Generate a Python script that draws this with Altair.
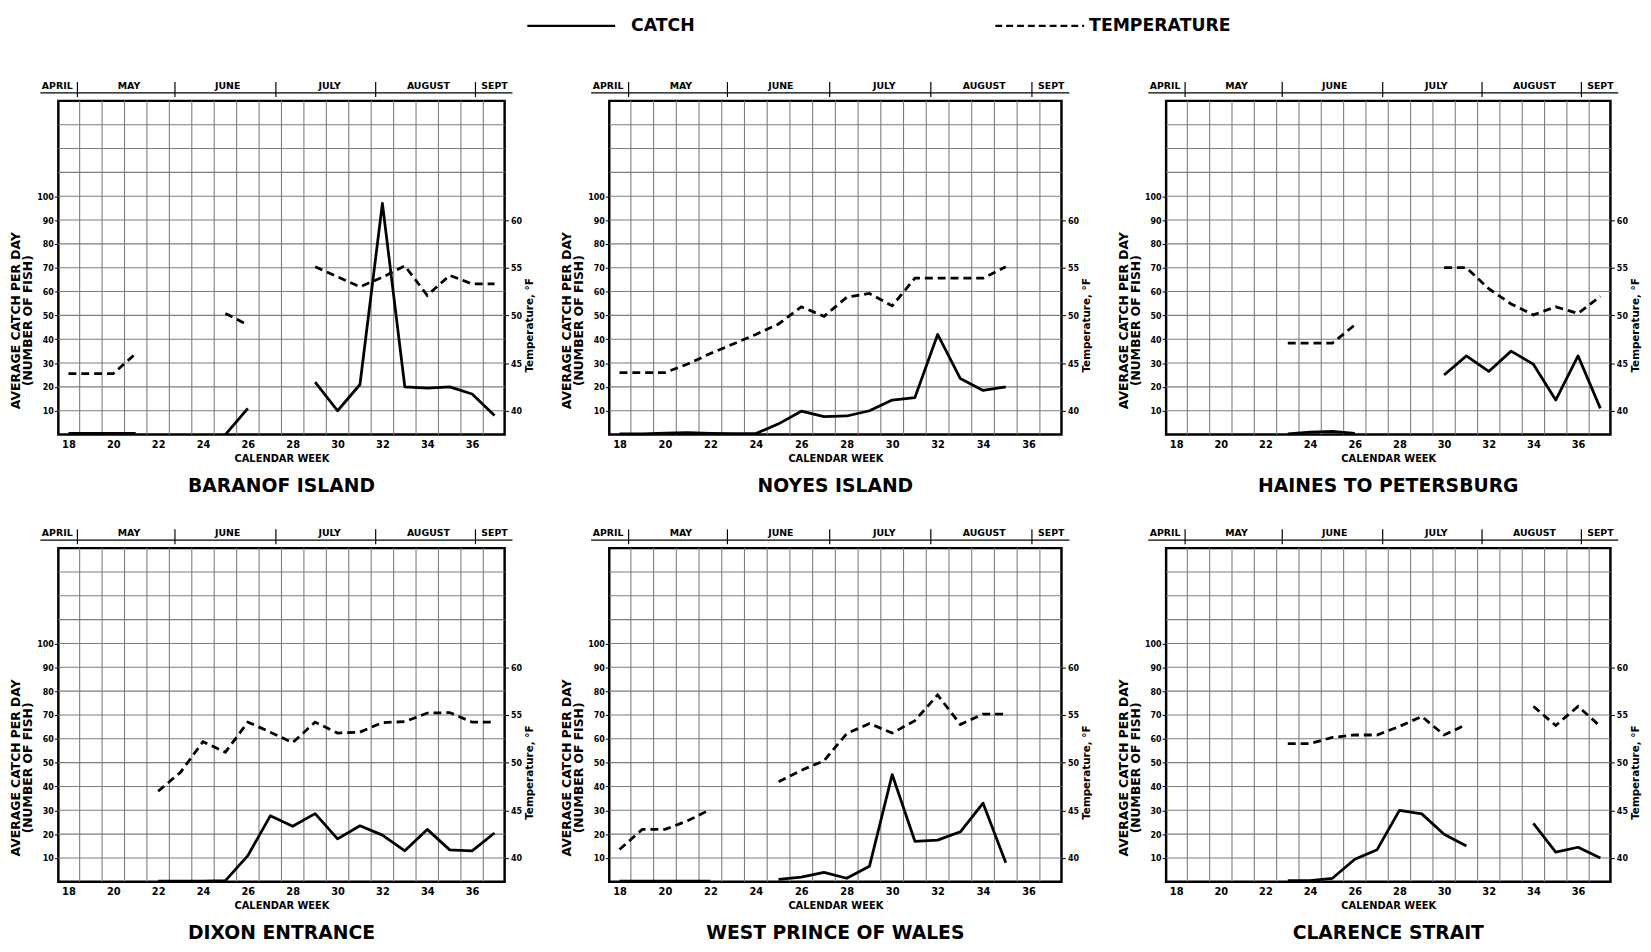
import altair as alt
import pandas as pd

# ---------------- data ----------------
WEEKS = list(range(18, 38))
N = None

BARANOF_CATCH = [0.5, 0.5, 0.5, 0.5, N, N, N, 0, 11, N, N, 22, 10, 21, 97, 20, 19.5, 20, 17, 8]
BARANOF_TEMP = [43.9, 43.9, 43.9, 46, N, N, N, 50.2, 49, N, N, 55.1, 54.05, 53, 54, 55.2, 52.1, 54.2, 53.3, 53.3]

NOYES_CATCH = [0.3, 0.3, 0.6, 0.8, 0.5, 0.4, 0.4, 4.5, 9.8, 7.5, 7.8, 10, 14.5, 15.5, 42, 23.5, 18.5, 20, N, N]
NOYES_TEMP = [44, 44, 44, 44.9, 46, 47, 48, 49.1, 50.9, 49.9, 51.9, 52.3, 51, 53.9, 53.9, 53.9, 53.9, 55.1, N, N]

HAINES_CATCH = [N, N, N, N, N, 0.3, 1.0, 1.3, 0.5, N, N, N, 25, 33, 26.5, 35, 29.5, 14.5, 33, 11]
HAINES_TEMP = [N, N, N, N, N, 47.1, 47.1, 47.1, 49, N, N, N, 55, 55, 52.8, 51.2, 50.05, 50.9, 50.2, 52]

DIXON_CATCH = [N, N, N, N, 0.3, 0.3, 0.3, 0.5, 11, 27.7, 23.3, 28.6, 18, 23.5, 19.6, 13, 22, 13.4, 13, 20.5]
DIXON_TEMP = [N, N, N, N, 47, 49, 52.2, 51.1, 54.25, 53.2, 52.1, 54.25, 53.1, 53.2, 54.2, 54.3, 55.2, 55.25, 54.25, 54.25]

WPW_CATCH = [0.3, 0.3, 0.3, 0.3, 0.3, N, N, 1, 2, 4, 1.5, 6.5, 45, 17, 17.5, 21, 33, 8, N, N]
WPW_TEMP = [40.9, 43, 43, 43.9, 45.1, N, N, 48, 49.2, 50.2, 53.05, 54.1, 53.1, 54.4, 57.1, 54, 55.1, 55.1, N, N]

CLARENCE_CATCH = [N, N, N, N, N, 0.5, 0.5, 1.5, 9.5, 13.5, 30, 28.5, 20, 15, N, N, 24.5, 12.5, 14.5, 10]
CLARENCE_TEMP = [N, N, N, N, N, 52, 52, 52.65, 52.9, 52.9, 53.8, 54.85, 52.9, 54, N, N, 55.9, 53.9, 55.9, 53.8]

PANEL_NAMES = ["BARANOF ISLAND", "NOYES ISLAND", "HAINES TO PETERSBURG",
               "DIXON ENTRANCE", "WEST PRINCE OF WALES", "CLARENCE STRAIT"]

MONTHS = ["APRIL", "MAY", "JUNE", "JULY", "AUGUST", "SEPT"]
MONTH_CENTER_WEEKS = [17.5, 20.7, 25.1, 29.65, 34.05, 37.0]
MONTH_BOUNDARY_WEEKS = [18.4, 22.75, 27.25, 31.7, 36.15]
BAND_START_WEEK = 16.75
BAND_END_WEEK = 37.8

X_LABEL_WEEKS = list(range(18, 37, 2))
WEEK_GRID = [w + 0.5 for w in range(18, 37)]
CATCH_GRID = list(range(10, 140, 10))
CATCH_TICKS = list(range(10, 101, 10))
TEMP_TICKS = [40, 45, 50, 55, 60]

# ---------------- style ----------------
NARROW = "DejaVu Sans Condensed, Liberation Sans Narrow, DejaVu Sans, sans-serif"
WIDE = "DejaVu Sans, sans-serif"
GRID = "#7d7d7d"


def segments(values, name):
    rows, seg, prev = [], 0, False
    for w, v in zip(WEEKS, values):
        if v is None:
            if prev:
                seg += 1
            prev = False
            continue
        rows.append({"week": w, "value": v, "seg": f"{name}{seg}"})
        prev = True
    return pd.DataFrame(rows)


def panel(title, catch, temp, width, height):
    xs = alt.Scale(domain=[17.55, 37.45], nice=False, zero=False)
    cs = alt.Scale(domain=[0, 140], nice=False, zero=False)
    ts = alt.Scale(domain=[37.5, 72.5], nice=False, zero=False)

    x_axis = alt.Axis(values=X_LABEL_WEEKS, title="CALENDAR WEEK", ticks=False, domain=False,
                      grid=False, labelPadding=5, titlePadding=4, labelFont=WIDE, labelFontSize=10,
                      labelFontWeight="bold", titleFont=WIDE, titleFontSize=10, titleFontWeight="bold",
                      labelColor="black", titleColor="black")
    left_axis = alt.Axis(values=CATCH_TICKS, title=["AVERAGE CATCH PER DAY", "(NUMBER OF FISH)"],
                         titleY=height * (1 - 48 / 140), titlePadding=2, titleLineHeight=12,
                         titleFont=WIDE, titleFontSize=12.5, titleFontWeight="bold", titleColor="black",
                         labelFont=NARROW, labelFontSize=9, labelFontWeight="bold", labelColor="black",
                         labelPadding=1, tickSize=4, tickColor="black", domain=False, grid=False)
    right_axis = alt.Axis(orient="right", values=TEMP_TICKS, title="Temperature, °F",
                          titleAngle=270, titleBaseline="top", titleY=height * (1 - 46 / 140),
                          titlePadding=3, titleFont=WIDE, titleFontSize=10.5, titleFontWeight="bold",
                          titleColor="black", labelFont=NARROW, labelFontSize=9, labelFontWeight="bold",
                          labelColor="black", labelPadding=2, tickSize=4, tickColor="black",
                          domain=False, grid=False)

    hgrid = alt.Chart(pd.DataFrame({"c": CATCH_GRID})).mark_rule(
        color=GRID, strokeWidth=1.1).encode(y=alt.Y("c:Q", scale=cs, axis=None))
    vgrid = alt.Chart(pd.DataFrame({"week": WEEK_GRID})).mark_rule(
        color=GRID, strokeWidth=1.1).encode(x=alt.X("week:Q", scale=xs, axis=x_axis))

    catch_line = alt.Chart(segments(catch, "c")).mark_line(
        color="black", strokeWidth=2.8, strokeJoin="round").encode(
        x=alt.X("week:Q", scale=xs, axis=x_axis),
        y=alt.Y("value:Q", scale=cs, axis=left_axis),
        detail="seg:N")

    temp_line = alt.Chart(segments(temp, "t")).mark_line(
        color="black", strokeWidth=2.8, strokeDash=[8, 5]).encode(
        x=alt.X("week:Q", scale=xs, axis=x_axis),
        y=alt.Y("value:Q", scale=ts, axis=right_axis),
        detail="seg:N")

    month_text = alt.Chart(pd.DataFrame({"week": MONTH_CENTER_WEEKS, "label": MONTHS})).mark_text(
        font=WIDE, fontSize=9.5, fontWeight="bold", color="black", baseline="middle").encode(
        x=alt.X("week:Q", scale=xs, axis=x_axis), y=alt.value(-15), text="label:N")
    band_line = alt.Chart(pd.DataFrame({"week": [BAND_START_WEEK], "end": [BAND_END_WEEK]})).mark_rule(
        color="black", strokeWidth=1.3).encode(
        x=alt.X("week:Q", scale=xs, axis=x_axis), x2="end:Q", y=alt.value(-8))
    band_ticks = alt.Chart(pd.DataFrame({"week": MONTH_BOUNDARY_WEEKS})).mark_rule(
        color="black", strokeWidth=1.2).encode(
        x=alt.X("week:Q", scale=xs, axis=x_axis), y=alt.value(-19), y2=alt.value(-4))

    return alt.layer(hgrid, vgrid, catch_line, temp_line, band_line, band_ticks, month_text
                     ).resolve_scale(y="independent").properties(
        width=width, height=height,
        title=alt.TitleParams(text=title, orient="bottom", font=WIDE, fontSize=19,
                              fontWeight="bold", color="black", offset=14, anchor="middle",
                              frame="group"))


row1 = alt.hconcat(
    panel(PANEL_NAMES[0], BARANOF_CATCH, BARANOF_TEMP, 452, 338),
    panel(PANEL_NAMES[1], NOYES_CATCH, NOYES_TEMP, 458, 338),
    panel(PANEL_NAMES[2], HAINES_CATCH, HAINES_TEMP, 450, 338),
    spacing=22)
row2 = alt.hconcat(
    panel(PANEL_NAMES[3], DIXON_CATCH, DIXON_TEMP, 452, 338),
    panel(PANEL_NAMES[4], WPW_CATCH, WPW_TEMP, 458, 338),
    panel(PANEL_NAMES[5], CLARENCE_CATCH, CLARENCE_TEMP, 450, 338),
    spacing=22)

one = pd.DataFrame({"k": [0]})
LEG_FONT = dict(font=WIDE, fontSize=17.5, fontWeight="bold", color="black", align="left", baseline="middle")
header = alt.layer(
    alt.Chart(one).mark_rule(color="black", strokeWidth=2.2).encode(
        x=alt.value(475), x2=alt.value(564), y=alt.value(10)),
    alt.Chart(one).mark_text(text="CATCH", **LEG_FONT).encode(x=alt.value(580), y=alt.value(10)),
    alt.Chart(one).mark_rule(color="black", strokeWidth=2.2, strokeDash=[7, 4]).encode(
        x=alt.value(949), x2=alt.value(1039), y=alt.value(10)),
    alt.Chart(one).mark_text(text="TEMPERATURE", **LEG_FONT).encode(x=alt.value(1044), y=alt.value(10)),
).properties(width=1500, height=20, view=alt.ViewBackground(stroke="transparent"))

chart = alt.vconcat(header, alt.vconcat(row1, row2, spacing=29), spacing=42).properties(
    padding=0).configure_view(stroke="black", strokeWidth=2.5)

chart.save("out.html", embed_options={"renderer": "svg", "actions": False})
